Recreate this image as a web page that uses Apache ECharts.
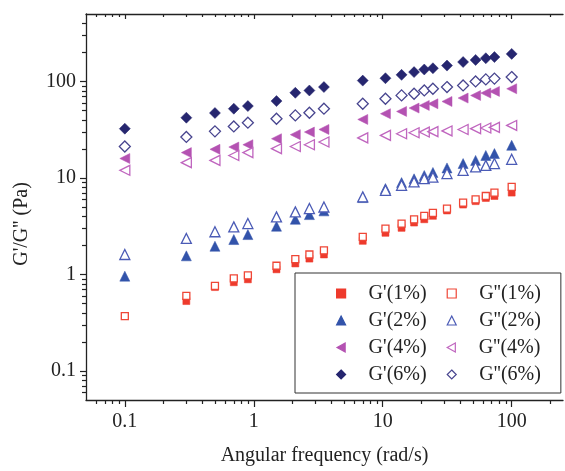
<!DOCTYPE html>
<html>
<head>
<meta charset="utf-8">
<script src="https://cdn.jsdelivr.net/npm/echarts@6/dist/echarts.min.js"></script>
<style>
  html, body { margin: 0; padding: 0; background: #fff; }
  #chart { width: 565px; height: 471px; }
</style>
</head>
<body>
<div id="chart"></div>
<script>
// angular frequency (rad/s)
var freq = [0.1, 0.3, 0.5, 0.7, 0.9, 1.5, 2.1, 2.7, 3.5, 7, 10.5, 14, 17.5, 21, 24.5, 31.5, 42, 52.5, 63, 73.5, 100];

var g1  = [null, 0.53, 0.74, 0.83, 0.89, 1.13, 1.3, 1.46, 1.61, 2.23, 2.7, 3.04, 3.45, 3.73, 4.05, 4.6, 5.3, 5.75, 6.2, 6.5, 7.05];
var gg1 = [0.37, 0.60, 0.76, 0.91, 0.98, 1.23, 1.44, 1.61, 1.78, 2.45, 2.99, 3.37, 3.73, 4.05, 4.35, 4.82, 5.56, 6.0, 6.5, 7.05, 8.1];
var g2  = [0.96, 1.56, 1.96, 2.3, 2.59, 3.16, 3.73, 4.17, 4.56, 6.26, 7.76, 8.95, 9.8, 10.6, 11.4, 12.7, 14.1, 15.2, 17.1, 17.9, 21.8];
var gg2 = [1.61, 2.36, 2.77, 3.11, 3.37, 3.95, 4.45, 4.82, 5.0, 6.37, 7.45, 8.39, 9.1, 9.84, 10.2, 11.1, 12.0, 13.0, 13.5, 14.1, 15.6];
var g4  = [15.9, 18.3, 19.8, 20.9, 22.1, 25.5, 28.1, 29.9, 31.8, 40.4, 46.3, 48.9, 53, 56.4, 58.7, 62, 67.3, 71.6, 75.8, 78.8, 84];
var gg4 = [12, 14.4, 15.2, 17.1, 18.3, 20.1, 21.2, 22.1, 23.6, 26, 27.6, 28.7, 29.4, 29.9, 30.2, 30.7, 31.8, 32.4, 32.9, 33.4, 35];
var g6  = [32.4, 42.1, 47.1, 52.2, 55.6, 62.6, 76.3, 80.6, 87.5, 102, 108, 117, 125, 133, 137, 146, 159, 167, 174, 179, 193];
var gg6 = [21.2, 26.6, 30.4, 34.2, 37.4, 41.1, 44.5, 47.4, 52.2, 58.7, 66.2, 71.7, 74.6, 80.7, 84, 87.5, 90.9, 100, 105, 107, 111];

var names = ['G\'(1%)', 'G\'\'(1%)', 'G\'(2%)', 'G\'\'(2%)', 'G\'(4%)', 'G\'\'(4%)', 'G\'(6%)', 'G\'\'(6%)'];

// tick values
var xMajor = [0.1, 1, 10, 100];
var xMinor = [0.06, 0.07, 0.08, 0.09, 0.2, 0.3, 0.4, 0.5, 0.6, 0.7, 0.8, 0.9,
              2, 3, 4, 5, 6, 7, 8, 9, 20, 30, 40, 50, 60, 70, 80, 90, 200];
var yMajor = [0.1, 1, 10, 100];
var yMinor = [0.06, 0.07, 0.08, 0.09, 0.2, 0.3, 0.4, 0.5, 0.6, 0.7, 0.8, 0.9,
              2, 3, 4, 5, 6, 7, 8, 9, 20, 30, 40, 50, 60, 70, 80, 90, 200, 300, 400];

var font = 'Liberation Serif';
var ink = '#222';
var leftTri = 'path://M0,5L9,0L9,10Z';

function pairs(ys) {
    var out = [];
    freq.forEach(function (f, i) {
        if (ys[i] != null) out.push([f, ys[i]]);
    });
    return out;
}

function filled(name, ys, color, symbol, size, rot) {
    return {
        name: name, type: 'scatter', data: pairs(ys),
        symbol: symbol, symbolSize: size, symbolRotate: rot || 0,
        itemStyle: { color: color, borderColor: color, borderWidth: 0.5, opacity: 1 }
    };
}
function hollow(name, ys, color, symbol, size, rot) {
    return {
        name: name, type: 'scatter', data: pairs(ys),
        symbol: symbol, symbolSize: size, symbolRotate: rot || 0,
        itemStyle: { color: '#fff', borderColor: color, borderWidth: 1.3, opacity: 1 }
    };
}

function xAxisCfg(pos, ticks, len, inside, showLine, labels) {
    return {
        type: 'log', logBase: 10, min: 0.05, max: 250, position: pos,
        axisLine: { show: showLine, lineStyle: { color: ink, width: 1.3 } },
        axisTick: { show: true, inside: inside, length: len, customValues: ticks,
                    lineStyle: { color: ink, width: 1.2 } },
        axisLabel: labels ? { show: true, customValues: labels, margin: 12,
                    fontFamily: font, fontSize: 20, color: ink } : { show: false },
        splitLine: { show: false }
    };
}
function yAxisCfg(ticks, len, showLine, labels) {
    return {
        type: 'log', logBase: 10, min: 0.05, max: 500, position: 'left',
        axisLine: { show: showLine, lineStyle: { color: ink, width: 1.3 } },
        axisTick: { show: true, inside: false, length: len, customValues: ticks,
                    lineStyle: { color: ink, width: 1.2 } },
        axisLabel: labels ? { show: true, customValues: labels, margin: 10,
                    fontFamily: font, fontSize: 20, color: ink } : { show: false },
        splitLine: { show: false }
    };
}

var xb = xAxisCfg('bottom', xMajor, 7, false, true, xMajor);
xb.name = 'Angular frequency (rad/s)';
xb.nameLocation = 'middle';
xb.nameGap = 46;
xb.nameTextStyle = { fontFamily: font, fontSize: 20, color: ink };

var yl = yAxisCfg(yMajor, 6, true, yMajor);
yl.name = 'G\'/G\'\' (Pa)';
yl.nameLocation = 'middle';
yl.nameGap = 54;
yl.nameTextStyle = { fontFamily: font, fontSize: 20, color: ink, padding: [0, 34, 0, 0] };

var legendData = names.map(function (n) {
    return n.indexOf('4%') >= 0 ? { name: n, icon: leftTri } : { name: n };
});

var myChart = echarts.init(document.getElementById('chart'));
var option = {
    animation: false,
    backgroundColor: '#fff',
    grid: { left: 86, right: 2, top: 14, bottom: 70 },
    xAxis: [
        xb,
        xAxisCfg('bottom', xMinor, 4, false, false, null),
        xAxisCfg('top', xMajor, 5, true, true, null),
        xAxisCfg('top', xMinor, 3, true, false, null)
    ],
    yAxis: [
        yl,
        yAxisCfg(yMinor, 4, false, null)
    ],
    legend: {
        left: 295, top: 273,
        orient: 'horizontal',
        width: 236,
        padding: [7, 0, 5, 41],
        itemWidth: 9, itemHeight: 9, itemGap: 0,
        symbolKeepAspect: true,
        borderColor: '#333', borderWidth: 1,
        backgroundColor: '#fff',
        itemStyle: { borderWidth: 1.2 },
        textStyle: { fontFamily: font, fontSize: 20, color: ink, lineHeight: 27,
                     padding: [0, 20, 0, 18] },
        data: legendData
    },
    series: [
        filled(names[0], g1, '#ee3a2c', 'rect', 7),
        hollow(names[1], gg1, '#ef4636', 'rect', 7),
        filled(names[2], g2, '#3253aa', 'triangle', 10),
        hollow(names[3], gg2, '#4b5bb6', 'triangle', 10),
        filled(names[4], g4, '#b452b2', 'triangle', 10, 90),
        hollow(names[5], gg4, '#c066bf', 'triangle', 10, 90),
        filled(names[6], g6, '#26266f', 'diamond', 11),
        hollow(names[7], gg6, '#48458f', 'diamond', 11)
    ]
};
myChart.setOption(option, true);
</script>
</body>
</html>
